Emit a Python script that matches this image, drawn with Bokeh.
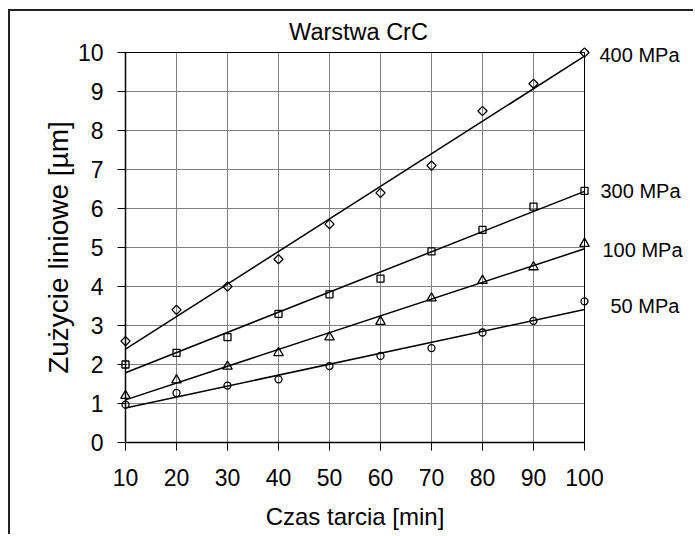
import numpy as np
from bokeh.plotting import figure
from bokeh.models import Range1d, FixedTicker
from bokeh.core.properties import value
from bokeh.embed import file_html
from bokeh.resources import INLINE

# ---- data ----
czas = [10, 20, 30, 40, 50, 60, 70, 80, 90, 100]
zuzycie_400 = [2.6, 3.4, 4.0, 4.7, 5.6, 6.4, 7.1, 8.5, 9.2, 10.0]
zuzycie_300 = [2.0, 2.3, 2.7, 3.3, 3.8, 4.2, 4.9, 5.45, 6.05, 6.45]
zuzycie_100 = [1.2, 1.6, 1.95, 2.3, 2.7, 3.1, 3.7, 4.15, 4.5, 5.1]
zuzycie_50 = [0.97, 1.27, 1.46, 1.62, 1.96, 2.22, 2.42, 2.82, 3.12, 3.62]
series_names = ["400 MPa", "300 MPa", "100 MPa", "50 MPa"]
series_values = [zuzycie_400, zuzycie_300, zuzycie_100, zuzycie_50]
y_ticks = list(range(0, 11))
label_y = [9.94, 6.44, 4.94, 3.5]

# ---- styling / layout ----
markers = ["square", "square", "triangle", "circle"]
marker_angles = [np.pi / 4, 0, 0, 0]
marker_sizes = [6.5, 7, 9.5, 7]
label_dx = [15, 16, 18, 26]
FONT = "Liberation Sans"

W, H = 685, 525
AXIS_X_PX = 115       # canvas x of the y axis
AXIS_Y_PX = 431       # canvas y of the x axis
PX_X = 459 / 90.0     # pixels per minute
PX_Y = 39.0           # pixels per micrometre
x0 = czas[0] - AXIS_X_PX / PX_X
x1 = x0 + W / PX_X
y0 = y_ticks[0] - (H - AXIS_Y_PX) / PX_Y
y1 = y_ticks[0] + AXIS_Y_PX / PX_Y

p = figure(width=W, height=H, output_backend="svg", toolbar_location=None,
           x_range=Range1d(x0, x1), y_range=Range1d(y0, y1),
           min_border_left=0, min_border_right=0,
           min_border_top=0, min_border_bottom=0,
           margin=(9, 0, 0, 8))
p.styles = {"border-left": "2px solid #222222", "border-top": "2px solid #222222"}

p.outline_line_color = None
p.background_fill_color = "white"
p.border_fill_color = "white"
p.grid.visible = False

xmin, xmax = czas[0], czas[-1]
ymin, ymax = y_ticks[0], y_ticks[-1]

# grid lines inside the plot area
p.segment(x0=czas, y0=[ymin] * len(czas), x1=czas, y1=[ymax] * len(czas),
          line_color="#808080", line_width=1)
p.segment(x0=[xmin] * len(y_ticks), y0=y_ticks, x1=[xmax] * len(y_ticks), y1=y_ticks,
          line_color="#808080", line_width=1)
# plot-area border (top & right)
p.line([xmin, xmax, xmax], [ymax, ymax, ymin], line_color="#000000", line_width=1)

p.xaxis.ticker = FixedTicker(ticks=czas)
p.yaxis.ticker = FixedTicker(ticks=y_ticks)
p.xaxis.bounds = (xmin, xmax)
p.yaxis.bounds = (ymin, ymax)
p.yaxis.fixed_location = xmin
p.xaxis.fixed_location = ymin

for ax in (p.xaxis[0], p.yaxis[0]):
    ax.axis_line_color = "#000000"
    ax.axis_line_width = 1.5
    ax.major_tick_line_color = "#000000"
    ax.major_tick_line_width = 1
    ax.major_tick_in = 0
    ax.major_tick_out = 8
    ax.minor_tick_line_color = None
    ax.major_label_text_font = FONT
    ax.major_label_text_font_size = "23px"
    ax.major_label_text_color = "#000000"
    ax.axis_label_text_font = FONT
    ax.axis_label_text_font_style = "normal"
    ax.axis_label_text_color = "#000000"

p.xaxis.axis_label = "Czas tarcia [min]"
p.yaxis.axis_label = "Zużycie liniowe [µm]"
p.xaxis.axis_label_text_font_size = "24px"
p.yaxis.axis_label_text_font_size = "28px"
p.xaxis.major_label_standoff = 18
p.yaxis.major_label_standoff = 14
p.xaxis.axis_label_standoff = 14
p.yaxis.axis_label_standoff = 1

# title (cap centre ~20 px above the top of the plot area)
p.text(x=[(xmin + xmax) / 2 + 3.5 / PX_X], y=[ymax + 21 / PX_Y], text=["Warstwa CrC"],
       text_font=value(FONT), text_font_size="23.5px",
       text_color="#000000", text_align="center", text_baseline="middle")

x = np.array(czas, dtype=float)
for name, vals, mk, ang, ms, ly, dx in zip(series_names, series_values, markers,
                                           marker_angles, marker_sizes, label_y, label_dx):
    y = np.array(vals, dtype=float)
    a, b = np.polyfit(x, y, 1)
    xs = [xmin, xmax]
    p.line(xs, [a * xs[0] + b, a * xs[1] + b], line_color="#000000", line_width=1.5)
    p.scatter(czas, vals, marker=mk, angle=ang, size=ms, line_color="#000000",
              line_width=1.3, fill_color=None)
    p.text(x=[xmax], y=[ly], text=[name], x_offset=dx, text_font=value(FONT),
           text_font_size="20px", text_color="#000000",
           text_align="left", text_baseline="middle")

open("out.html", "w").write(file_html(p, INLINE))
